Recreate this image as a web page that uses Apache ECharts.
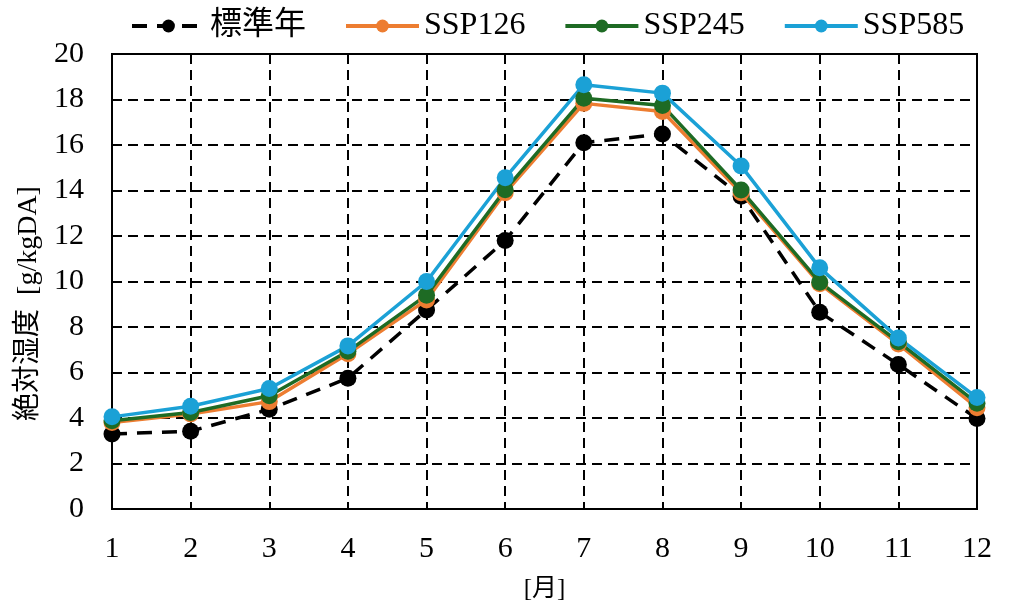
<!DOCTYPE html>
<html><head><meta charset="utf-8">
<script src="https://cdn.jsdelivr.net/npm/echarts@6/dist/echarts.min.js"></script>
<style>html,body{margin:0;padding:0;background:#fff}#c{width:1024px;height:615px}</style>
</head><body><div id="c"></div>
<script>
const months = ['1','2','3','4','5','6','7','8','9','10','11','12'];
const yTicks = [0,2,4,6,8,10,12,14,16,18,20];
const standard = [3.3,3.42,4.38,5.75,8.75,11.8,16.1,16.48,13.75,8.65,6.35,3.98];
const ssp126 = [3.8,4.18,4.72,6.82,9.19,13.9,17.83,17.47,13.9,9.9,7.25,4.45];
const ssp245 = [3.88,4.24,4.98,6.93,9.4,14.03,18.05,17.74,14.02,9.97,7.35,4.65];
const ssp585 = [4.05,4.52,5.3,7.17,10.0,14.56,18.65,18.28,15.08,10.6,7.52,4.9];

const serif = '"Liberation Serif", "Noto Sans CJK JP", serif';
const chart = echarts.init(document.getElementById('c'));
function s(name, data, color, dashed){
  return {name, type:'line', data, symbol:'circle', symbolSize:17,
    lineStyle:{color, width:3.5, type: dashed ? [15,10] : 'solid'},
    itemStyle:{color}, z: dashed?2:3};
}
chart.setOption({
  animation:false,
  legend:{top:5, left:125, itemWidth:73, itemHeight:16, itemGap:38,
    lineStyle:{width:4},
    textStyle:{fontFamily:serif, fontSize:32, color:'#000', padding:[0,0,0,0]},
    data:['標準年','SSP126','SSP245','SSP585']},
  grid:{left:112, right:47, top:54, bottom:106, show:true, borderColor:'#000', borderWidth:2},
  xAxis:{type:'category', data:months, boundaryGap:false, name:'[月]', nameLocation:'middle', nameGap:68,
    nameTextStyle:{fontFamily:serif, fontSize:25, color:'#000'},
    axisLine:{lineStyle:{color:'#000', width:2}}, axisTick:{show:false},
    axisLabel:{fontFamily:serif, fontSize:30, color:'#000', margin:25},
    splitLine:{show:true, lineStyle:{color:'#000', width:2, type:[10,6]}}},
  yAxis:{type:'value', min:0, max:20, interval:2, name:'絶対湿度  [g/kgDA]', nameLocation:'middle', nameGap:57,
    nameTextStyle:{fontFamily:serif, fontSize:28, color:'#000', padding:[0,44,0,0]},
    axisLine:{show:true, lineStyle:{color:'#000', width:2}}, axisTick:{show:false},
    axisLabel:{fontFamily:serif, fontSize:30, color:'#000', margin:28, formatter:v=>yTicks.includes(v)?String(v):''},
    splitLine:{show:true, lineStyle:{color:'#000', width:2, type:[10,6]}}},
  series:[
    s('標準年', standard, '#000000', true),
    s('SSP126', ssp126, '#ED7D31', false),
    s('SSP245', ssp245, '#1E6B24', false),
    s('SSP585', ssp585, '#1BA1D6', false)
  ]
});
</script></body></html>
